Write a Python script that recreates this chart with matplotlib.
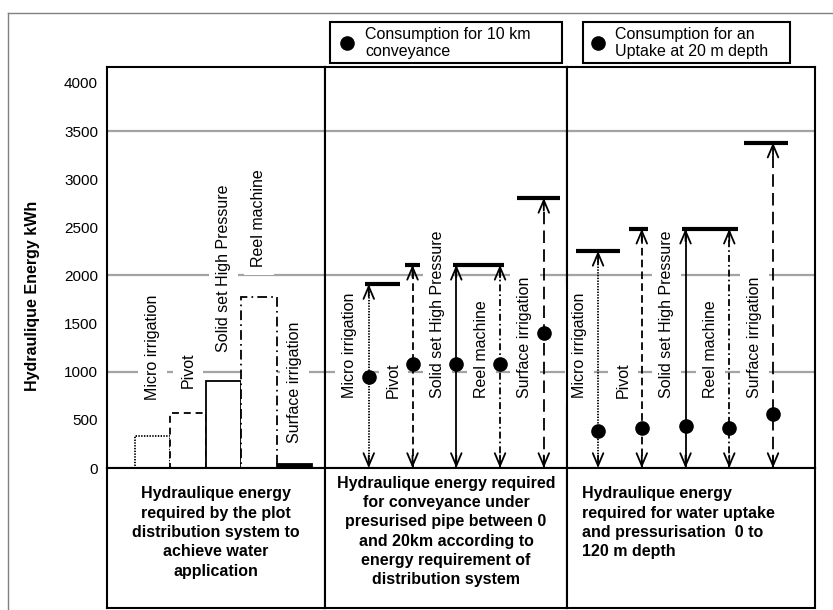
"""
Hydraulic energy by irrigation system: plot distribution, conveyance and uptake
"""
import matplotlib
matplotlib.use("Agg")
import matplotlib.pyplot as plt
from matplotlib.lines import Line2D
from matplotlib.patches import Rectangle

plt.rcParams["font.family"] = ["Liberation Sans", "DejaVu Sans"]
plt.rcParams["lines.scale_dashes"] = False

# Data (kWh)
systems = ["Micro irrigation", "Pivot", "Solid set High Pressure",
           "Reel machine", "Surface irrigation"]

plot_energy = [335, 575, 900, 1780, 45]            # panel 1, bars

conveyance_max = [1910, 2110, 2110, 2110, 2805]    # panel 2, 20 km
conveyance_10km = [950, 1080, 1080, 1080, 1400]    # panel 2, dots

uptake_max = [2255, 2485, 2485, 2485, 3380]        # panel 3, 120 m
uptake_20m = [387, 415, 437, 420, 563]             # panel 3, dots

y_ticks = [0, 500, 1000, 1500, 2000, 2500, 3000, 3500, 4000]
grid_levels = [1000, 2000, 3500]

y_label = "Hydraulique Energy kWh"
legend_texts = ["Consumption for 10 km\nconveyance",
                "Consumption for an\nUptake at 20 m depth"]
panel_texts = [
    "Hydraulique energy\nrequired by the plot\ndistribution system to\nachieve water\napplication",
    "Hydraulique energy required\nfor conveyance under\npresurised pipe between 0\nand 20km according to\nenergy requirement of\ndistribution system",
    "Hydraulique energy\nrequired for water uptake\nand pressurisation  0 to\n120 m depth",
]

# Styles
line_styles = [(0, (1, 1)), (0, (5.5, 3)), "-", (0, (5, 2.2, 1.2, 2.2)), (0, (9, 4.5))]
bar_styles = [(0, (1, 1)), (0, (5, 3.5)), "-", (0, (7, 3, 1.2, 3)), "-"]
label_lift = [26, 18, 21, 21, 15]      # points above each bar
caps_mid = [(-0.09, 0.71), (-0.18, 0.16), (-0.07, 0.5), (-0.5, 0.09), (-0.62, 0.37)]
caps_right = [(-0.5, 0.5), (-0.3, 0.14), (-0.07, 0.5), (-0.5, 0.2), (-0.66, 0.34)]

FS = 11.5
LW = 1.3
W, H = 833, 610
GRID = "#a3a3a3"


def fig_box(x0, y0, x1, y1):
    return [x0 / W, 1 - y1 / H, (x1 - x0) / W, (y1 - y0) / H]


def px(x, y):
    return x / W, 1 - y / H


def frame(ax):
    ax.set_xticks([])
    ax.set_yticks([])
    for s in ax.spines.values():
        s.set_linewidth(1.5)
        s.set_color("black")
        s.set_zorder(6)


def arrow_head(ax, x, y, up):
    off = -9 if up else 9
    ax.annotate("", xy=(x, y), xytext=(0, off), textcoords="offset points",
                annotation_clip=False,
                arrowprops=dict(arrowstyle="->,head_length=0.9,head_width=0.38",
                                mutation_scale=10, lw=LW, color="black",
                                shrinkA=0, shrinkB=0), zorder=4)


def arrow_panel(ax, tops, dots, caps):
    for i, (top, dot) in enumerate(zip(tops, dots)):
        ax.plot([i, i], [0, top], color="black", lw=LW, ls=line_styles[i], zorder=3)
        arrow_head(ax, i, top, True)
        arrow_head(ax, i, 0, False)
        ax.hlines(top, i + caps[i][0], i + caps[i][1], color="black", lw=3, zorder=4)
        ax.plot(i, dot, "o", color="black", ms=9.5, zorder=5)
        ax.text(i - 0.43, 730, systems[i], rotation=90, ha="center", va="bottom",
                fontsize=FS, zorder=2,
                bbox=dict(boxstyle="square,pad=0.45", fc="white", ec="none"))


fig = plt.figure(figsize=(W / 100, H / 100), dpi=100)

ax1 = fig.add_axes(fig_box(107, 67, 325, 468))
ax2 = fig.add_axes(fig_box(325, 67, 567, 468))
ax3 = fig.add_axes(fig_box(567, 67, 815, 468))

for ax, xl in zip([ax1, ax2, ax3], [(-1.28, 4.86), (-1.0, 4.53), (-0.71, 4.96)]):
    frame(ax)
    ax.set_xlim(*xl)
    ax.set_ylim(0, 4165)
    for g in grid_levels:
        ax.axhline(g, color=GRID, lw=1.6, zorder=1)

# y axis on first panel
ax1.set_yticks(y_ticks)
ax1.tick_params(axis="y", length=0, pad=6.5, labelsize=11)

# Panel 1 bars
bars = ax1.bar(range(len(systems)), plot_energy, width=1.0, facecolor="white",
               edgecolor="black", lw=LW, zorder=3)
for i, b in enumerate(bars):
    b.set_linestyle(bar_styles[i])
    if i == len(bars) - 1:
        b.set_facecolor("black")
for i, v in enumerate(plot_energy):
    ax1.annotate(systems[i], xy=(i, v), xytext=(0, label_lift[i]),
                 textcoords="offset points", rotation=90, ha="center", va="bottom",
                 fontsize=FS, zorder=2,
                 bbox=dict(boxstyle="square,pad=0.45", fc="white", ec="none"))

# Panels 2 and 3
arrow_panel(ax2, conveyance_max, conveyance_10km, caps_mid)
arrow_panel(ax3, uptake_max, uptake_20m, caps_right)

# Text boxes under the panels
boxes = [(107, 325), (325, 567), (567, 815)]
text_pos = [(0.5, 0.868, "center"), (0.5, 0.945, "center"), (0.06, 0.868, "left")]
for (x0, x1), txt, (tx, ty, ha) in zip(boxes, panel_texts, text_pos):
    tb = fig.add_axes(fig_box(x0, 468, x1, 608))
    frame(tb)
    tb.text(tx, ty, txt, transform=tb.transAxes, ha=ha, va="top",
            multialignment=ha, fontsize=FS, fontweight="bold", linespacing=1.36)

fig.text(*px(33, 296), y_label, rotation=90, ha="center", va="center",
         fontsize=FS, fontweight="bold")

# Legend boxes
for (x0, x1, dx, tx), txt in zip([(330, 562, 347, 365), (583, 790, 598, 615)], legend_texts):
    fig.add_artist(Rectangle(px(x0, 63), (x1 - x0) / W, 41 / H, fill=False,
                             lw=1.5, ec="black", transform=fig.transFigure))
    fig.add_artist(Line2D([dx / W], [1 - 43 / H], marker="o", ms=9.5, color="black",
                          transform=fig.transFigure))
    fig.text(*px(tx, 43), txt, ha="left", va="center", fontsize=FS)

# Outer gray frame (top and left)
fig.add_artist(Line2D([8 / W, 8 / W], [0, 1 - 13 / H], color="#808080", lw=1,
                      transform=fig.transFigure))
fig.add_artist(Line2D([8 / W, 1], [1 - 13 / H, 1 - 13 / H], color="#808080", lw=1,
                      transform=fig.transFigure))

fig.savefig("out.png", dpi=100)
